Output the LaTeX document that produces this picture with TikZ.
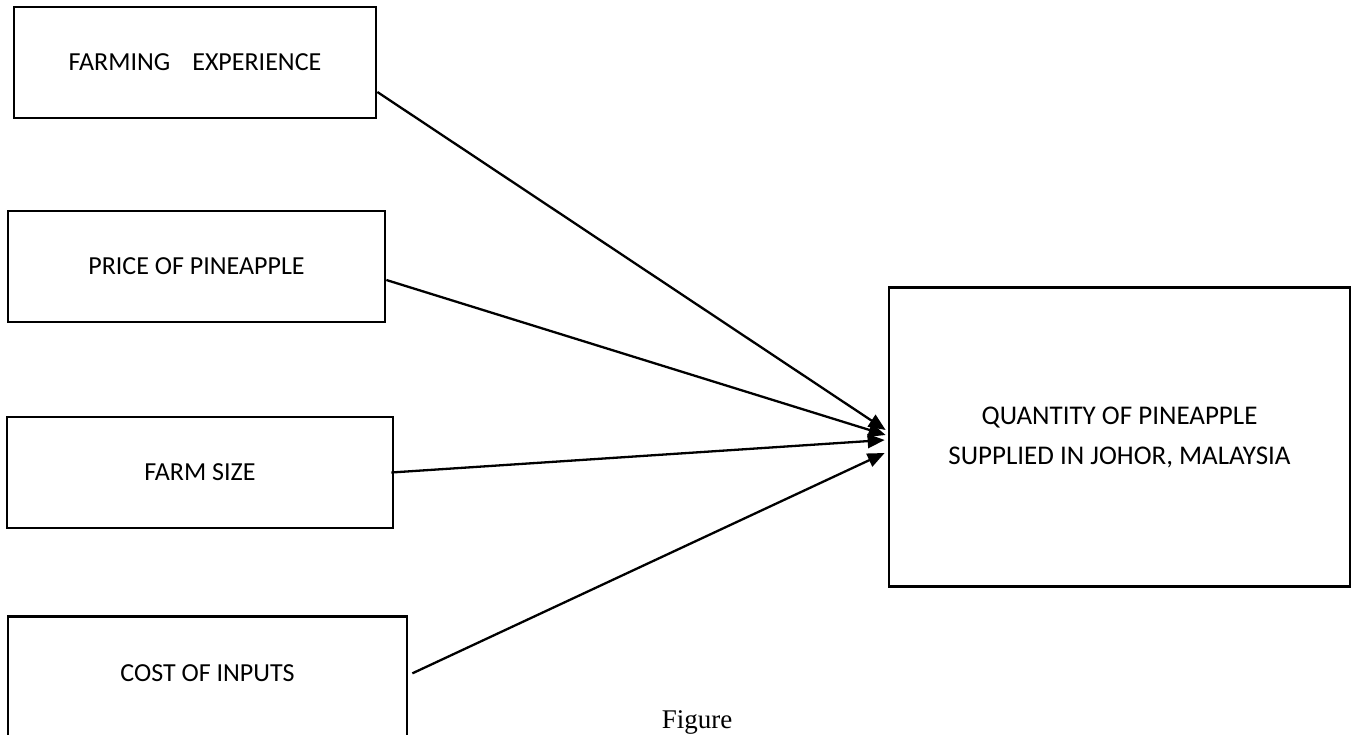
\documentclass[tikz,border=0pt]{standalone}
\usepackage{fontspec}
\setmainfont{Carlito}
\newfontfamily\capfont{Liberation Serif}
\usetikzlibrary{arrows.meta}
\newcommand{\boxfont}{\fontsize{26}{40}\selectfont}

\begin{document}
\begin{tikzpicture}[x=1pt,y=-1pt]
    \useasboundingbox (0,0) rectangle (1358,735);
    \clip (0,0) rectangle (1358,735);
    \begin{scope}[every node/.style={rectangle,draw=black,line width=2.7pt,inner sep=0pt,align=center,font=\boxfont}]
        \node[minimum width=362pt,minimum height=111pt] (exp) at (195,62.5) {FARMING\hspace{22pt}EXPERIENCE};
        \node[minimum width=377pt,minimum height=111pt] (price) at (196.5,266.5) {PRICE OF PINEAPPLE};
        \node[minimum width=386pt,minimum height=111pt] (size) at (200,472.5) {FARM SIZE};
        \node[minimum width=399pt,minimum height=145pt,anchor=north,text depth=31pt] (cost) at (207.5,615) {COST OF INPUTS};
        \node[minimum width=461pt,minimum height=299pt,font=\fontsize{27}{40}\selectfont] (qty) at (1119.5,437) {QUANTITY OF PINEAPPLE\\SUPPLIED IN JOHOR, MALAYSIA};
    \end{scope}

    \node[font=\capfont\fontsize{27}{30}\selectfont,anchor=base] (fig) at (697,728) {Figure};

    \begin{scope}[>={Triangle[length=17pt,width=14pt]},
        every edge/.style={draw=black,line width=2.3pt}]
        \path [->] ([yshift=-29.5pt]exp.east) edge ([xshift=-2pt,yshift=7pt]qty.west);
        \path [->] ([yshift=-13.5pt]price.east) edge ([xshift=-2pt,yshift=2pt]qty.west);
        \path [->] ([xshift=-3pt]size.east) edge ([xshift=-3pt,yshift=-3pt]qty.west);
        \path [->] ([xshift=4pt,yshift=15.5pt]cost.east) edge ([xshift=-3pt,yshift=-16pt]qty.west);
    \end{scope}
\end{tikzpicture}
\end{document}
